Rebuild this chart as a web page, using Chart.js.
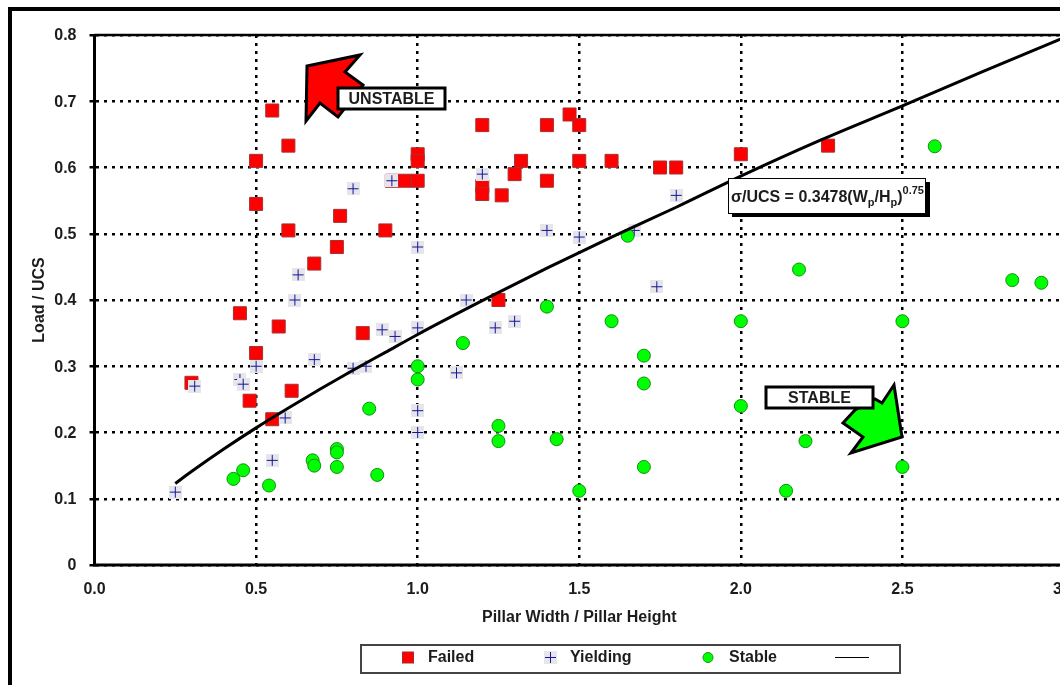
<!DOCTYPE html>
<html>
<head>
<meta charset="utf-8">
<title>Pillar stability chart</title>
<script src="https://cdn.jsdelivr.net/npm/chart.js@4/dist/chart.umd.min.js"></script>
<style>
  html, body { margin: 0; padding: 0; background: #fff; overflow: hidden; }
  #wrap { position: relative; width: 1060px; height: 685px; overflow: hidden; }
  #frame { position: absolute; left: 8px; top: 7px; right: -10px; bottom: -10px;
           border-left: 4px solid #000; border-top: 4px solid #000; }
  canvas { position: absolute; left: 0; top: 0; }
</style>
</head>
<body>
<div id="wrap">
  <canvas id="chart" width="1100" height="685"></canvas>
  <div id="frame"></div>
</div>
<script>
const failedX = [0.55, 0.6, 0.5, 0.5, 0.6, 0.76, 0.9, 0.75, 0.68, 0.45, 0.57, 0.83, 0.5, 0.3, 0.61, 0.48, 0.55,
  0.92, 0.96, 1.0, 1.0, 1.0, 1.2, 1.2, 1.2, 1.26, 1.3, 1.32, 1.25, 1.4, 1.4, 1.47, 1.5, 1.5, 1.6, 1.75, 1.8, 2.0, 2.27];
const failedY = [0.686, 0.633, 0.61, 0.545, 0.505, 0.527, 0.505, 0.48, 0.455, 0.38, 0.36, 0.35, 0.32, 0.275, 0.263, 0.248, 0.22,
  0.58, 0.58, 0.58, 0.62, 0.61, 0.664, 0.572, 0.56, 0.558, 0.59, 0.61, 0.4, 0.664, 0.58, 0.68, 0.664, 0.61, 0.61, 0.6, 0.6, 0.62, 0.633];

const yieldingX = [0.25, 0.31, 0.45, 0.46, 0.5, 0.55, 0.59, 0.62, 0.63, 0.68, 0.8, 0.8, 0.84, 0.89, 0.93, 0.92,
  1.0, 1.0, 1.0, 1.0, 1.12, 1.15, 1.2, 1.24, 1.3, 1.4, 1.5, 1.67, 1.74, 1.8];
const yieldingY = [0.11, 0.27, 0.28, 0.273, 0.3, 0.158, 0.222, 0.4, 0.438, 0.31, 0.297, 0.568, 0.3, 0.355, 0.345, 0.58,
  0.48, 0.358, 0.233, 0.2, 0.29, 0.4, 0.59, 0.358, 0.368, 0.505, 0.495, 0.505, 0.42, 0.558];

const stableX = [0.43, 0.46, 0.54, 0.675, 0.68, 0.75, 0.75, 0.75, 0.85, 0.875, 1.0, 1.0, 1.14, 1.25, 1.25, 1.4, 1.43, 1.5,
  1.6, 1.65, 1.7, 1.7, 1.7, 2.0, 2.0, 2.14, 2.18, 2.2, 2.5, 2.5, 2.6, 2.84, 2.93];
const stableY = [0.13, 0.143, 0.12, 0.158, 0.15, 0.175, 0.17, 0.148, 0.236, 0.136, 0.3, 0.28, 0.335, 0.21, 0.187, 0.39, 0.19, 0.112,
  0.368, 0.497, 0.316, 0.274, 0.148, 0.368, 0.24, 0.112, 0.446, 0.187, 0.368, 0.148, 0.632, 0.43, 0.426];

// fitted line
const curveX = [0.25, 0.3, 0.4, 0.5, 0.6, 0.7, 0.8, 0.9, 1.0, 1.2, 1.4, 1.6, 1.8, 2.0, 2.25, 2.5, 2.75, 3.0];
const curveY = [0.123, 0.141, 0.175, 0.207, 0.237, 0.266, 0.294, 0.321, 0.348, 0.399, 0.448, 0.495, 0.54, 0.587, 0.642, 0.693, 0.745, 0.796];

const xTicks = [0, 0.5, 1, 1.5, 2, 2.5, 3];
const yTicks = [0, 0.1, 0.2, 0.3, 0.4, 0.5, 0.6, 0.7, 0.8];

const FONT = '"Liberation Sans", Arial, sans-serif';
const TEXT = "#1c1c1c";

function zip(xs, ys) {
  return xs.map((x, i) => ({ x: x, y: ys[i] }));
}

function makePlus() {
  const c = document.createElement("canvas");
  c.width = 13;
  c.height = 13;
  const g = c.getContext("2d");
  g.fillStyle = "#e6e6ea";
  g.fillRect(0, 0, 13, 13);
  g.fillStyle = "#14149c";
  g.fillRect(1, 6, 11, 1);
  g.fillRect(6, 1, 1, 11);
  return c;
}
const plusMark = makePlus();

function polygon(ctx, pts, fill) {
  ctx.beginPath();
  pts.forEach((p, i) => (i ? ctx.lineTo(p[0], p[1]) : ctx.moveTo(p[0], p[1])));
  ctx.closePath();
  ctx.fillStyle = fill;
  ctx.fill();
  ctx.lineJoin = "miter";
  ctx.lineWidth = 3;
  ctx.strokeStyle = "#000";
  ctx.stroke();
}

function labelBox(ctx, x, y, w, h, text) {
  ctx.fillStyle = "#fff";
  ctx.fillRect(x, y, w, h);
  ctx.lineWidth = 3;
  ctx.strokeStyle = "#000";
  ctx.strokeRect(x, y, w, h);
  ctx.fillStyle = TEXT;
  ctx.font = "bold 16px " + FONT;
  ctx.textAlign = "center";
  ctx.textBaseline = "middle";
  ctx.fillText(text, x + w / 2, y + h / 2 + 1);
}

function equationBox(ctx) {
  ctx.fillStyle = "#000";
  ctx.fillRect(732, 182, 198, 35);
  ctx.fillStyle = "#fff";
  ctx.fillRect(728, 178, 198, 36);
  ctx.lineWidth = 1;
  ctx.strokeStyle = "#000";
  ctx.strokeRect(728.5, 178.5, 197, 35);

  const parts = [
    ["\u03c3/UCS = 0.3478(W", 0, 16],
    ["p", 4, 11],
    ["/H", 0, 16],
    ["p", 4, 11],
    [")", 0, 16],
    ["0.75", -8, 11]
  ];
  let x = 731;
  ctx.fillStyle = TEXT;
  ctx.textAlign = "left";
  ctx.textBaseline = "alphabetic";
  for (const p of parts) {
    ctx.font = "bold " + p[2] + "px " + FONT;
    ctx.fillText(p[0], x, 202 + p[1]);
    x += ctx.measureText(p[0]).width;
  }
}

const annotations = {
  id: "annotations",
  afterDatasetsDraw(chart) {
    const ctx = chart.ctx;
    ctx.save();
    polygon(ctx, [[307, 66], [360, 55], [345, 72], [363, 85], [338, 117], [320, 103], [306, 121]], "#ff0000");
    labelBox(ctx, 338, 88, 107, 21, "UNSTABLE");
    polygon(ctx, [[894, 385], [902, 437], [851, 453], [863, 437], [843, 423], [855, 410], [875, 399], [882, 403]], "#00ff00");
    labelBox(ctx, 766, 387, 107, 21, "STABLE");
    equationBox(ctx);
    ctx.restore();
  }
};

// legend sits in its own box under the axis title
const legendBox = {
  id: "legendBox",
  afterDraw(chart) {
    const ctx = chart.ctx;
    const ds = chart.data.datasets;
    const midY = 657.5;
    ctx.save();
    ctx.lineWidth = 2;
    ctx.strokeStyle = "#444";
    ctx.strokeRect(361, 645, 539, 28);
    ctx.fillStyle = "#ff0000";
    ctx.fillRect(402.5, 652, 11, 11);
    ctx.strokeStyle = "#a03030";
    ctx.lineWidth = 1;
    ctx.strokeRect(402.5, 652, 11, 11);
    ctx.drawImage(plusMark, 544, 651);
    ctx.beginPath();
    ctx.arc(708, midY, 5, 0, Math.PI * 2);
    ctx.fillStyle = "#00ff00";
    ctx.fill();
    ctx.strokeStyle = "#109010";
    ctx.stroke();
    ctx.beginPath();
    ctx.moveTo(835, midY);
    ctx.lineTo(869, midY);
    ctx.strokeStyle = "#000";
    ctx.stroke();
    ctx.fillStyle = TEXT;
    ctx.font = "bold 16px " + FONT;
    ctx.textAlign = "left";
    ctx.textBaseline = "middle";
    ctx.fillText(ds[0].label, 428, midY);
    ctx.fillText(ds[1].label, 570, midY);
    ctx.fillText(ds[2].label, 729, midY);
    ctx.restore();
  }
};

// solid axis lines go over the dotted grid
const plotFrame = {
  id: "plotFrame",
  beforeDatasetsDraw(chart) {
    const a = chart.chartArea;
    const ctx = chart.ctx;
    ctx.save();
    ctx.lineWidth = 3;
    ctx.strokeStyle = "#000";
    ctx.beginPath();
    ctx.moveTo(a.left, a.top);
    ctx.lineTo(a.left, a.bottom);
    ctx.lineTo(a.right, a.bottom);
    ctx.stroke();
    ctx.lineWidth = 2.5;
    ctx.beginPath();
    ctx.moveTo(a.left, a.top);
    ctx.lineTo(a.right, a.top);
    ctx.stroke();
    ctx.restore();
  }
};

new Chart(document.getElementById("chart"), {
  type: "scatter",
  data: {
    datasets: [
      {
        label: "Failed",
        data: zip(failedX, failedY),
        pointStyle: "rect",
        pointRadius: 9.2,
        backgroundColor: "#ff0000",
        borderColor: "#a83030",
        borderWidth: 1,
        order: 4
      },
      {
        label: "Yielding",
        data: zip(yieldingX, yieldingY),
        pointStyle: plusMark,
        pointRadius: 7,
        order: 3
      },
      {
        label: "Stable",
        data: zip(stableX, stableY),
        pointStyle: "circle",
        pointRadius: 6.5,
        backgroundColor: "#00ff00",
        borderColor: "#109010",
        borderWidth: 1,
        order: 2
      },
      {
        label: "Fit",
        type: "line",
        data: zip(curveX, curveY),
        showLine: true,
        pointRadius: 0,
        borderColor: "#000",
        borderWidth: 3,
        cubicInterpolationMode: "monotone",
        order: 1
      }
    ]
  },
  options: {
    responsive: false,
    animation: false,
    clip: false,
    layout: { padding: { left: 30, top: 35, right: 36, bottom: 58 } },
    plugins: {
      legend: { display: false },
      tooltip: { enabled: false },
      title: { display: false }
    },
    scales: {
      x: {
        type: "linear",
        min: 0,
        max: 3,
        afterBuildTicks: (axis) => { axis.ticks = xTicks.map((v) => ({ value: v })); },
        afterFit: (axis) => { axis.height = 62; },
        ticks: {
          padding: 15,
          color: TEXT,
          font: { family: FONT, size: 16, weight: "bold" },
          maxRotation: 0,
          callback: (v) => v.toFixed(1)
        },
        grid: {
          color: "#000",
          lineWidth: 2.5,
          tickLength: 0,
          drawTicks: false,
          z: 0
        },
        border: { color: "#000", width: 2, dash: [3, 5] },
        title: {
          display: true,
          text: "Pillar Width / Pillar Height",
          color: TEXT,
          font: { family: FONT, size: 16, weight: "bold" },
          padding: 0
        }
      },
      y: {
        type: "linear",
        min: 0,
        max: 0.8,
        afterBuildTicks: (axis) => { axis.ticks = yTicks.map((v) => ({ value: v })); },
        afterFit: (axis) => { axis.width = 64.5; },
        ticks: {
          padding: 13,
          labelOffset: 1,
          color: TEXT,
          font: { family: FONT, size: 16, weight: "bold" },
          callback: (v) => (v === 0 ? "0" : v.toFixed(1))
        },
        grid: {
          color: "#000",
          tickColor: "#000",
          lineWidth: 2.5,
          tickLength: 5
        },
        border: { color: "#000", width: 2, dash: [3, 5] },
        title: {
          display: true,
          text: "Load / UCS",
          color: TEXT,
          font: { family: FONT, size: 16, weight: "bold" },
          padding: 0
        }
      }
    }
  },
  plugins: [plotFrame, annotations, legendBox]
});
</script>
</body>
</html>
